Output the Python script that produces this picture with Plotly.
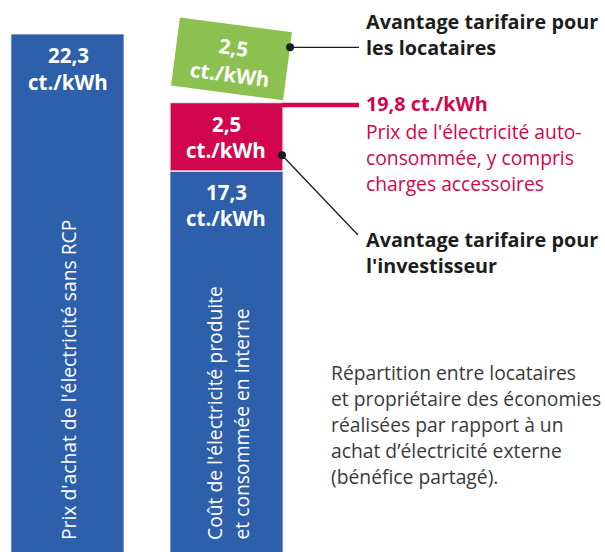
import math
import plotly.graph_objects as go

# ---------------- data ----------------
bar_names = ["Prix d'achat de l'électricité sans RCP",
             ["Coût de l'électricité produite", "et consommée en interne"]]
purchase_price = 22.3      # ct./kWh, external purchase without RCP
own_cost = 17.3            # ct./kWh, cost of self-produced electricity
investor_adv = 2.5         # ct./kWh, advantage for investor
tenant_adv = 2.5           # ct./kWh, advantage for tenants
selfcons_price = own_cost + investor_adv   # 19.8

def fmt(v):
    return f"{v:.1f}".replace(".", ",")

unit = "ct./kWh"
label_tenant = ["Avantage tarifaire pour", "les locataires"]
label_price_title = f"{fmt(selfcons_price)} {unit}"
label_price = ["Prix de l'électricité auto-", "consommée, y compris", "charges accessoires"]
label_investor = ["Avantage tarifaire pour", "l'investisseur"]
note_lines = ["Répartition entre locataires", "et propriétaire des économies",
              "réalisées par rapport à un", "achat d’électricité externe",
              "(bénéfice partagé)."]

# ---------------- style ----------------
W, H = 605, 552
BLUE = "#2E5FAA"
RED = "#D1064E"
GREEN = "#8CC152"
DARK = "#1d1d1b"
GREY = "#3a3a3a"
FONT = "Open Sans"
BAR_W = 0.711
X0, X1 = -0.4245, 3.3805
Y0, Y1 = 3.395, 23.541

def x2px(x): return (x - X0) / (X1 - X0) * W
def y2py(y): return (Y1 - y) / (Y1 - Y0) * H
def px2x(px): return X0 + px / W * (X1 - X0)
def py2y(py): return Y1 - py / H * (Y1 - Y0)

fig = go.Figure()
edge = dict(color="rgba(235,240,248,0.8)", width=1)
fig.add_trace(go.Bar(x=[0, 1], y=[purchase_price, own_cost], base=[0, 0], width=BAR_W,
                     marker=dict(color=BLUE, line=edge), hoverinfo="skip"))
fig.add_trace(go.Bar(x=[1], y=[investor_adv], base=[own_cost], width=BAR_W,
                     marker=dict(color=RED, line=dict(color="rgba(235,235,240,0.9)", width=1.5)),
                     hoverinfo="skip"))

# rotated green box (tenant advantage), built from data values
angle = math.radians(7.5)
gap = 0.34
cx = x2px(1) + 5
cy = y2py(selfcons_price + gap + tenant_adv / 2)
hw = (x2px(BAR_W) - x2px(0)) / 2
hh = (y2py(0) - y2py(tenant_adv)) / 2
def rot(dx, dy):
    return (cx + dx * math.cos(angle) - dy * math.sin(angle),
            cy + dx * math.sin(angle) + dy * math.cos(angle))
corners = [rot(-hw, -hh), rot(hw, -hh), rot(hw, hh), rot(-hw, hh), rot(-hw, -hh)]
fig.add_trace(go.Scatter(x=[px2x(p[0]) for p in corners], y=[py2y(p[1]) for p in corners],
                         fill="toself", fillcolor=GREEN, mode="lines",
                         line=dict(width=0, color=GREEN), hoverinfo="skip"))

# connector geometry
text_x_px = 359
gdot = rot(hw, -hh + 0.22 * 2 * hh)
rdot = (x2px(1 + BAR_W / 2) - 1, y2py(own_cost + investor_adv * 0.23))
red_line_y = y2py(selfcons_price) + 2.5

shapes = [
    dict(type="line", x0=px2x(gdot[0]), x1=px2x(text_x_px), y0=py2y(gdot[1]), y1=py2y(gdot[1]),
         line=dict(color=DARK, width=1.3)),
    dict(type="line", x0=px2x(rdot[0]), x1=px2x(358), y0=py2y(rdot[1]), y1=py2y(235),
         line=dict(color=DARK, width=1.3)),
    dict(type="line", x0=px2x(x2px(1 + BAR_W / 2) - 1), x1=px2x(text_x_px),
         y0=py2y(red_line_y), y1=py2y(red_line_y), line=dict(color=RED, width=4.5)),
]
fig.add_trace(go.Scatter(x=[px2x(gdot[0]), px2x(rdot[0])], y=[py2y(gdot[1]), py2y(rdot[1])],
                         mode="markers", marker=dict(color=DARK, size=8), hoverinfo="skip"))

ann = []
def txt(text, px, py, size=17, color=DARK, bold=False, xanchor="left", yanchor="middle",
        angle=0):
    ann.append(dict(text=text, x=px / W, y=1 - py / H, xref="paper", yref="paper",
                    xanchor=xanchor, yanchor=yanchor, showarrow=False, textangle=angle,
                    font=dict(family=FONT, size=size, color=color,
                              weight=700 if bold else 400)))

# bar value labels
VS = 20.5
txt(fmt(purchase_price), 68, 55, size=VS, bold=True, color="white", xanchor="center")
txt(unit, 68, 82, size=VS, bold=True, color="white", xanchor="center")
txt(fmt(investor_adv), 226, 124, size=VS, bold=True, color="white", xanchor="center")
txt(unit, 226, 150, size=VS, bold=True, color="white", xanchor="center")
txt(fmt(own_cost), 226, 192, size=VS, bold=True, color="white", xanchor="center")
txt(unit, 226, 218, size=VS, bold=True, color="white", xanchor="center")
txt(fmt(tenant_adv), 233, 47, size=VS, bold=True, color="white", xanchor="center", angle=7.5)
txt(unit, 230, 74, size=VS, bold=True, color="white", xanchor="center", angle=7.5)

# rotated category labels inside bars
RS = 19.3
txt(bar_names[0], 68, 542, size=RS, color="white", xanchor="center", yanchor="bottom", angle=-90)
txt(bar_names[1][0], 214, 542, size=RS, color="white", xanchor="center", yanchor="bottom", angle=-90)
txt(bar_names[1][1], 241, 542, size=RS, color="white", xanchor="center", yanchor="bottom", angle=-90)

# right-hand annotations
TX = 364
BS = 19.8
NS = 19.3
txt(label_tenant[0], TX, 22, size=BS, bold=True)
txt(label_tenant[1], TX, 47, size=BS, bold=True)
txt(label_price_title, TX, 103, size=BS, bold=True, color=RED)
for i, line in enumerate(label_price):
    txt(line, TX, 131 + 26 * i, size=NS, color=RED)
txt(label_investor[0], TX, 240, size=BS, bold=True)
txt(label_investor[1], TX, 265, size=BS, bold=True)
for i, line in enumerate(note_lines):
    txt(line, 329, 372 + 26 * i, size=NS, color=GREY)

fig.update_layout(
    width=W, height=H, margin=dict(l=0, r=0, t=0, b=0),
    plot_bgcolor="white", paper_bgcolor="white", showlegend=False,
    barmode="overlay", shapes=shapes, annotations=ann,
    xaxis=dict(range=[X0, X1], visible=False, fixedrange=True),
    yaxis=dict(range=[Y0, Y1], visible=False, fixedrange=True),
)
fig.write_html("out.html", config={"displayModeBar": False},
               post_script="document.body.style.margin='0';document.body.style.overflow='hidden';")
